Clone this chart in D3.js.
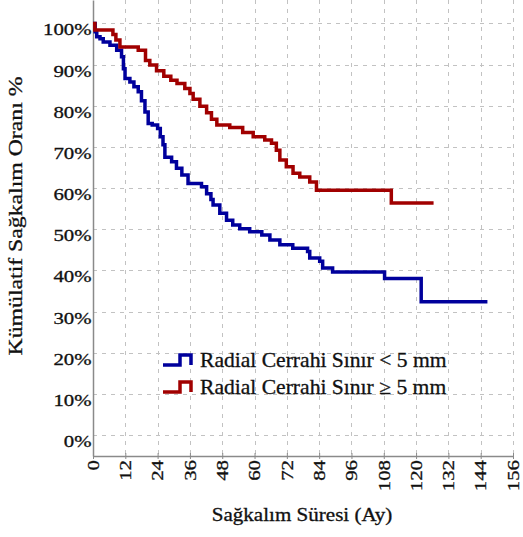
<!DOCTYPE html>
<html>
<head>
<meta charset="utf-8">
<script src="https://cdn.jsdelivr.net/npm/d3@7"></script>
<style>
  body { margin: 0; background: #fff; }
  svg { display: block; }
  svg text { stroke: #111; stroke-width: 0.3px; }
</style>
</head>
<body>
<div id="chart-area"></div>
<script>
// kaplan-meier style survival curves
var xTicks = [0, 12, 24, 36, 48, 60, 72, 84, 96, 108, 120, 132, 144, 156];
var yTicks = [0, 10, 20, 30, 40, 50, 60, 70, 80, 90, 100];

// Radial Cerrahi Sınır < 5 mm
var blueTime = [0, 0.8, 1.4, 2.6, 3.8, 6.3, 8.8, 10.6, 11.3, 11.9, 13.7, 15.2, 16.8, 18, 19.3, 20.5,
  22, 24, 25, 26, 26.7, 29.2, 31, 33, 35.3, 40.3, 42.2, 43.8, 44.6, 47.1, 49.6, 51.9, 54.5, 58.2,
  62.7, 65.7, 69.4, 74.2, 79.7, 80.5, 84.2, 85.3, 89, 108.3, 121.9, 146.5];
var blueSurv = [100, 98, 96.8, 96.3, 95.5, 94.7, 93.5, 91.9, 89, 86.6, 85.8, 84.6, 83.4, 81.2, 78.5, 75.7,
  75.3, 74.5, 72.5, 70.5, 67.5, 66.4, 64.8, 63.2, 61.1, 60.3, 58.6, 57.2, 55.9, 53.9, 52.2, 51.0, 50.1, 49.4,
  48.6, 47.4, 46.2, 45.4, 44.6, 43.0, 42.2, 40.6, 39.6, 38.0, 32.4, 32.4];

// Radial Cerrahi Sınır ≥ 5 mm
var redTime = [0, 0.7, 7.4, 8.5, 10, 16.8, 19.5, 21.1, 23.6, 26.3, 28.9, 31.2, 34.1, 36, 37.2, 39.7,
  42.2, 44, 46, 50.8, 55.6, 59.5, 63.8, 66.3, 68.1, 69.4, 71.8, 74.3, 76.8, 80.5, 83, 110.8, 126.5];
var redSurv = [100, 98.4, 97.3, 96, 94.3, 93.5, 91.0, 89.9, 88.5, 87.2, 86.2, 85.4, 84.2, 83, 81.6, 79.9,
  78.3, 76.7, 75.3, 74.7, 73.5, 72.5, 71.7, 70.9, 69.2, 66.8, 65.2, 63.6, 62.7, 61.5, 59.5, 56.4, 56.4];

var seriesNames = ["Radial Cerrahi Sınır < 5 mm", "Radial Cerrahi Sınır \u2265 5 mm"];
var seriesColors = ["#00009c", "#a10000"];

var width = 523, height = 537;
var font = "'Liberation Serif', 'Times New Roman', serif";

var svg = d3.select("#chart-area")
  .append("svg")
  .attr("width", width)
  .attr("height", height);

var x = d3.scaleLinear().domain([0, 156]).range([93, 513]);
var y = d3.scaleLinear().domain([-5.1, 105.7]).range([456, 0]);

// grid
var grid = svg.append("g").attr("class", "grid")
  .attr("stroke", "#c2c2c2").attr("stroke-width", 1).attr("stroke-dasharray", "4,5");
grid.selectAll(".hgrid").data(yTicks).enter().append("line")
  .attr("x1", x(0)).attr("x2", x(156))
  .attr("y1", function(d) { return Math.round(y(d)) + 0.5; })
  .attr("y2", function(d) { return Math.round(y(d)) + 0.5; });
grid.selectAll(".vgrid").data(xTicks.slice(1)).enter().append("line")
  .attr("y1", 0).attr("y2", y(-5.1))
  .attr("x1", function(d) { return Math.round(x(d)) + 0.5; })
  .attr("x2", function(d) { return Math.round(x(d)) + 0.5; });

// x axis
var xAxis = svg.append("g")
  .attr("transform", "translate(0," + y(-5.1) + ")")
  .call(d3.axisBottom(x).tickValues(xTicks).tickSizeOuter(0).tickSizeInner(3));
xAxis.select(".domain").attr("stroke", "#8a8a8a").attr("stroke-width", 1.5);
xAxis.selectAll(".tick line").attr("y1", -3).attr("y2", 3).attr("stroke", "#8a8a8a");
xAxis.selectAll(".tick text")
  .attr("font-family", font).attr("font-size", "16px").attr("fill", "#111")
  .attr("text-anchor", "end")
  .attr("x", -4 / 1.3).attr("y", 0).attr("dy", "0.33em")
  .attr("transform", "rotate(-90) scale(1.3,1)");

// y axis
var yAxis = svg.append("g")
  .attr("transform", "translate(" + x(0) + ",0)")
  .call(d3.axisLeft(y).tickValues(yTicks).tickSize(0).tickSizeOuter(0)
    .tickFormat(function(d) { return d + "%"; }));
yAxis.select(".domain").attr("stroke", "#8a8a8a").attr("stroke-width", 1.5);
yAxis.selectAll(".tick text")
  .attr("font-family", font).attr("font-size", "16px").attr("fill", "#111")
  .attr("x", -1.5 / 1.3).attr("dy", "0.72em")
  .attr("transform", "scale(1.3,1)");

// curves
var line = d3.line()
  .x(function(d) { return x(d[0]); })
  .y(function(d) { return y(d[1]); })
  .curve(d3.curveStepAfter);

var curves = [d3.zip(blueTime, blueSurv), d3.zip(redTime, redSurv)];
svg.selectAll(".curve").data(curves).enter().append("path")
  .attr("class", "curve")
  .attr("d", line)
  .attr("fill", "none")
  .attr("stroke", function(d, i) { return seriesColors[i]; })
  .attr("stroke-width", 3.5)
  .attr("stroke-linejoin", "miter");

// legend
var legend = svg.selectAll(".legend").data(seriesNames).enter().append("g")
  .attr("class", "legend")
  .attr("transform", function(d, i) { return "translate(163," + (360 + i * 27) + ")"; });
legend.append("path")
  .attr("d", "M0,5H17V-5H28V5")
  .attr("fill", "none")
  .attr("stroke", function(d, i) { return seriesColors[i]; })
  .attr("stroke-width", 3.5);
legend.append("text")
  .attr("x", 37 / 1.08).attr("y", 7)
  .attr("transform", "scale(1.08,1)")
  .attr("font-family", font).attr("font-size", "20px").attr("fill", "#111")
  .text(function(d) { return d; });

// axis titles
svg.append("text")
  .attr("transform", "translate(302,521) scale(1.17,1)")
  .attr("text-anchor", "middle")
  .attr("font-family", font).attr("font-size", "18px").attr("fill", "#111")
  .text("Sağkalım Süresi (Ay)");

svg.append("text")
  .attr("transform", "translate(15,216) rotate(-90) scale(1.25,1)")
  .attr("text-anchor", "middle")
  .attr("dy", "0.35em")
  .attr("font-family", font).attr("font-size", "19px").attr("fill", "#111")
  .text("Kümülatif Sağkalım Oranı %");
</script>
</body>
</html>
